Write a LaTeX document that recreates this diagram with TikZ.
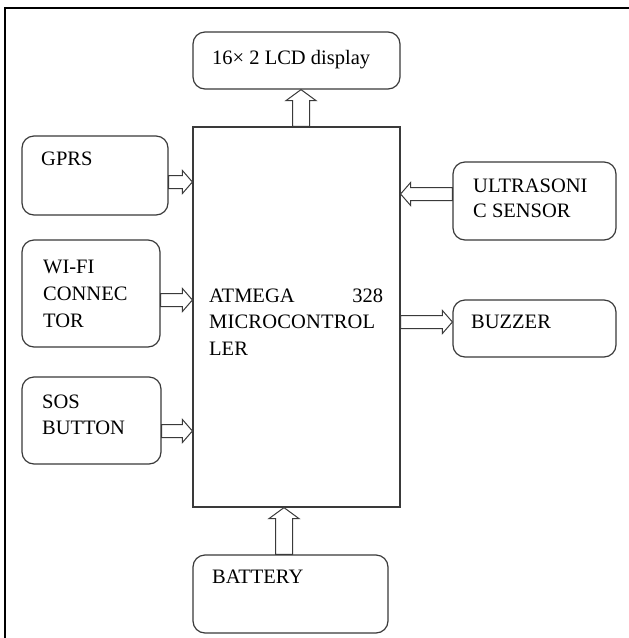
\documentclass[tikz,border=0pt]{standalone}
\usepackage{fontspec}
\setmainfont{Liberation Serif}
\usetikzlibrary{calc}
\definecolor{linec}{HTML}{3A3A3A}
\tikzset{
  box/.style={draw=linec, line width=1.2pt, rounded corners=12pt, inner sep=0pt},
  sqbox/.style={draw=linec, line width=1.2pt, inner sep=0pt},
  txt/.style={inner sep=0pt, font=\fontsize{20.5}{27}\selectfont, anchor=base west},
  blockarrow/.style n args={3}{draw=linec, line width=1pt, fill=white,
    to path={
      ($(\tikztostart)!#1!90:(\tikztotarget)$) --
      ($(\tikztotarget)!#3!(\tikztostart)!#1!-90:(\tikztostart)$) --
      ($(\tikztotarget)!#3!(\tikztostart)!#2!-90:(\tikztostart)$) --
      (\tikztotarget) --
      ($(\tikztotarget)!#3!(\tikztostart)!#2!90:(\tikztostart)$) --
      ($(\tikztotarget)!#3!(\tikztostart)!#1!90:(\tikztostart)$) --
      ($(\tikztostart)!#1!-90:(\tikztotarget)$) -- cycle}},
  harrow/.style={blockarrow={6.5pt}{11.5pt}{10pt}},
  varrow/.style={blockarrow={8.5pt}{15pt}{11pt}},
}
\begin{document}
\begin{tikzpicture}[x=1pt, y=-1pt]
\useasboundingbox (0,0) rectangle (629,638);
\fill[white] (0,0) rectangle (629,638);
% outer frame
\draw[black, line width=2pt] (5,640) -- (5,8) -- (631,8);

% boxes
\node[box, minimum width=207pt, minimum height=57pt] (lcd) at (296.5,60.5) {};
\node[sqbox, minimum width=207pt, minimum height=380pt] (mcu) at (296.5,317) {};
\node[box, minimum width=146pt, minimum height=79pt] (gprs) at (95,175.5) {};
\node[box, minimum width=138pt, minimum height=107pt] (wifi) at (91,293.5) {};
\node[box, minimum width=139pt, minimum height=87pt] (sos) at (91.5,420.5) {};
\node[box, minimum width=163pt, minimum height=78pt] (ultra) at (534.5,201) {};
\node[box, minimum width=163pt, minimum height=57pt] (buzzer) at (534.5,328.5) {};
\node[box, minimum width=195pt, minimum height=78pt] (battery) at (290.5,594) {};

% texts
\node[txt] (lcdT) at (212,64) {16× 2 LCD display};
\node[txt] (gprsT) at (41,165) {GPRS};
\node[txt] (wifiT1) at (43,273) {WI-FI};
\node[txt] (wifiT2) at (43,300) {CONNEC};
\node[txt] (wifiT3) at (43,327) {TOR};
\node[txt] (sosT1) at (42,408) {SOS};
\node[txt] (sosT2) at (42,434) {BUTTON};
\node[txt] (mcuT1) at (209,302) {\makebox[174pt][s]{ATMEGA\hfill 328}};
\node[txt] (mcuT2) at (209,328) {\makebox[166pt][s]{M\hfil I\hfil C\hfil R\hfil O\hfil C\hfil O\hfil N\hfil T\hfil R\hfil O\hfil L}};
\node[txt] (mcuT3) at (209,355) {LER};
\node[txt] (ultraT1) at (473,192) {ULTRASONI};
\node[txt] (ultraT2) at (473,217) {C SENSOR};
\node[txt] (buzzerT) at (471,328) {BUZZER};
\node[txt] (batteryT) at (212,583) {BATTERY};

% connector end points
\coordinate (g1) at (gprs.east |- 0,182);
\coordinate (g2) at (mcu.west |- 0,182);
\coordinate (w1) at (wifi.east |- 0,300);
\coordinate (w2) at (mcu.west |- 0,300);
\coordinate (s1) at (sos.east |- 0,431);
\coordinate (s2) at (mcu.west |- 0,431);
\coordinate (u1) at (ultra.west |- 0,194);
\coordinate (u2) at (mcu.east |- 0,194);
\coordinate (b1) at (mcu.east |- 0,322);
\coordinate (b2) at (buzzer.west |- 0,322);
\coordinate (l1) at (mcu.north -| 301,0);
\coordinate (l2) at (lcd.south -| 301,0);
\coordinate (p1) at (battery.north -| 284,0);
\coordinate (p2) at (mcu.south -| 284,0);

% block arrows
\draw[harrow] (g1) to (g2);
\draw[harrow] (w1) to (w2);
\draw[harrow] (s1) to (s2);
\draw[harrow] (u1) to (u2);
\draw[harrow] (b1) to (b2);
\draw[varrow] (l1) to (l2);
\draw[varrow] (p1) to (p2);
\end{tikzpicture}
\end{document}
